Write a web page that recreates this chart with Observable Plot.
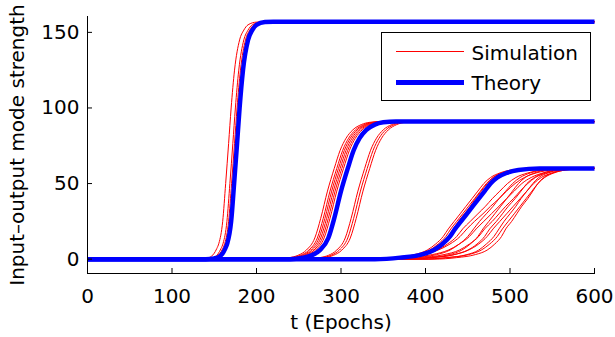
<!DOCTYPE html>
<html><head><meta charset="utf-8">
<script src="https://cdn.jsdelivr.net/npm/d3@7"></script>
<script src="https://cdn.jsdelivr.net/npm/@observablehq/plot@0.6"></script>
<style>
html,body{margin:0;padding:0;background:#fff;}
#wrap{position:relative;width:615px;height:337px;font-family:"DejaVu Sans",sans-serif;color:#000;}
#legend{position:absolute;left:381px;top:32px;width:210px;height:69px;box-sizing:border-box;border:1px solid #000;background:#fff;}
#legend svg{position:absolute;left:0;top:0;}
#legend .tx{position:absolute;left:89.5px;font-size:20px;line-height:normal;white-space:nowrap;}
</style></head><body><div id="wrap"></div>
<script>
const xTicks = [0, 100, 200, 300, 400, 500, 600];
const yTicks = [0, 50, 100, 150];
const xLabel = "t (Epochs)";
const yLabel = "Input\u2013output mode strength";
const legendLabels = ["Simulation", "Theory"];

// Mode 1 (strongest): strength levels and times at which each curve reaches them
const mode1Levels = [0, 0, 0.5, 1.5, 3.5, 7, 10.5, 25, 50, 76.5, 100, 125, 145, 151.5, 155, 156.8, 157, 157];
const mode1Theory = [0, 140, 150, 155.5, 159.5, 163, 165.5, 170, 173.5, 177, 180, 184, 190, 195, 200, 210, 220, 600];
const mode1Sims = [
  [0, 130, 140, 145.5, 149.5, 153, 155.5, 160, 163.5, 167, 170, 174, 180, 185, 190, 200, 210, 600],
  [0, 135, 145, 150.5, 154.5, 158, 160.5, 165, 168.5, 172, 175, 179, 185, 190, 195, 205, 215, 600],
  [0, 137, 147, 152.5, 156.5, 160, 162.5, 167, 170.5, 174, 177, 181, 187, 192, 197, 207, 217, 600]
];

// Mode 2
const mode2Levels = [0, 0, 1, 2.5, 6, 14, 27, 45, 60, 72, 80, 85.5, 89, 90.5, 91, 91];
const mode2Theory = [0, 240, 255, 265, 275, 285, 292, 300, 308, 315, 322, 330, 340, 350, 365, 600];
const mode2Sims = [
  [0, 224, 239, 249, 259, 269, 276, 284, 292, 299, 306, 314, 324, 334, 349, 600],
  [0, 227, 242, 252, 262, 272, 279, 287, 295, 302, 309, 317, 327, 337, 352, 600],
  [0, 229, 244, 254, 264, 274, 281, 289, 297, 304, 311, 319, 329, 339, 354, 600],
  [0, 231, 246, 256, 266, 276, 283, 291, 299, 306, 313, 321, 331, 341, 356, 600],
  [0, 233, 248, 258, 268, 278, 285, 293, 301, 308, 315, 323, 333, 343, 358, 600],
  [0, 235, 250, 260, 270, 280, 287, 295, 303, 310, 317, 325, 335, 345, 360, 600],
  [0, 260, 275, 285, 295, 305, 312, 320, 328, 335, 342, 350, 360, 370, 385, 600],
  [0, 263, 278, 288, 298, 308, 315, 323, 331, 338, 345, 353, 363, 373, 388, 600],
  [0, 266, 281, 291, 301, 311, 318, 326, 334, 341, 348, 356, 366, 376, 391, 600]
];

// Mode 3
const mode3Levels = [0, 0, 1, 3, 6, 10, 15, 20, 25, 30, 35, 40, 45, 50, 54, 57, 59, 60, 60];
const mode3Theory = [0, 340, 370, 395, 410, 420, 429, 435, 442, 449, 456, 463, 470, 477, 485, 496, 510, 535, 600];
const mode3Sims = [
  [0, 326, 363, 394, 413, 426, 437, 444, 453, 462, 471, 479, 488, 497, 507, 521, 538, 569, 600],
  [0, 321, 361, 395, 415, 429, 441, 449, 458, 468, 477, 487, 496, 506, 517, 531, 550, 584, 600],
  [0, 352, 385, 413, 429, 440, 450, 457, 464, 472, 480, 487, 495, 503, 512, 524, 539, 567, 600],
  [0, 336, 375, 408, 427, 440, 452, 460, 469, 478, 487, 496, 505, 514, 525, 539, 557, 590, 600],
  [0, 373, 403, 428, 443, 453, 462, 468, 475, 482, 489, 496, 503, 510, 518, 529, 543, 568, 600],
  [0, 356, 392, 422, 440, 452, 463, 470, 479, 487, 495, 504, 512, 521, 530, 543, 560, 590, 600],
  [0, 377, 408, 434, 450, 461, 470, 476, 484, 491, 498, 506, 513, 520, 529, 540, 555, 581, 600],
  [0, 371, 405, 434, 451, 463, 473, 480, 488, 496, 504, 512, 520, 528, 537, 550, 566, 595, 600],
  [0, 396, 425, 449, 463, 472, 481, 487, 493, 500, 507, 513, 520, 527, 534, 545, 558, 582, 600],
  [0, 396, 426, 451, 466, 476, 485, 491, 498, 505, 512, 519, 526, 533, 541, 552, 566, 591, 600],
  [0, 410, 437, 459, 473, 482, 490, 495, 502, 508, 514, 521, 527, 533, 540, 550, 563, 585, 600],
  [0, 332, 362, 387, 402, 412, 421, 427, 434, 441, 448, 455, 462, 469, 477, 488, 502, 527, 600],
  [0, 335, 365, 390, 405, 415, 424, 430, 437, 444, 451, 458, 465, 472, 480, 491, 505, 530, 600],
  [0, 342, 371, 395, 409, 418, 427, 433, 439, 446, 453, 459, 466, 473, 480, 491, 504, 528, 600]
];

function rows(mode, levels, tArrays) {
  const out = [];
  tArrays.forEach((ts, i) => ts.forEach((t, j) => out.push({t, v: levels[j], id: mode + "-" + i})));
  return out;
}
const simRows = [
  ...rows("m1", mode1Levels, mode1Sims),
  ...rows("m2", mode2Levels, mode2Sims),
  ...rows("m3", mode3Levels, mode3Sims)
];
const theoryRows = [
  ...rows("m1", mode1Levels, [mode1Theory]),
  ...rows("m2", mode2Levels, [mode2Theory]),
  ...rows("m3", mode3Levels, [mode3Theory])
];

const chart = Plot.plot({
  width: 615, height: 337,
  marginLeft: 87, marginRight: 21, marginTop: 16, marginBottom: 64,
  x: {domain: [0, 600]},
  y: {domain: [-9.5, 160.5]},
  style: {fontFamily: "DejaVu Sans", fontSize: "20px", color: "#000", background: "#fff", overflow: "visible"},
  marks: [
    Plot.line(simRows, {x: "t", y: "v", z: "id", stroke: "#ff0000", strokeWidth: 1, curve: "monotone-x"}),
    Plot.line(theoryRows, {x: "t", y: "v", z: "id", stroke: "#0000ff", strokeWidth: 4.5, strokeLinecap: "butt", curve: "monotone-x"}),
    Plot.frame({anchor: "left", stroke: "#000"}),
    Plot.frame({anchor: "bottom", stroke: "#000"}),
    Plot.tickX(xTicks, {x: d => d, insetTop: 252, stroke: "#000"}),
    Plot.tickY(yTicks, {y: d => d, insetRight: 502, stroke: "#000"}),
    Plot.axisX({ticks: xTicks, tickSize: 0, tickPadding: 15, fontSize: 20, label: null, fill: "#000"}),
    Plot.axisY({ticks: yTicks, tickSize: 0, tickPadding: 8, fontSize: 20, label: null, fill: "#000"}),
    Plot.text([xLabel], {frameAnchor: "bottom", dy: 55, text: d => d, lineAnchor: "bottom", fontSize: 20, fill: "#000"}),
    Plot.text([yLabel], {frameAnchor: "left", dx: -64, rotate: -90, text: d => d, textAnchor: "middle", lineAnchor: "bottom", fontSize: 20, fill: "#000"})
  ]
});
const wrap = document.getElementById("wrap");
wrap.appendChild(chart);

const legend = document.createElement("div");
legend.id = "legend";
legend.innerHTML =
  '<svg width="208" height="67"><line x1="14" x2="82" y1="18.5" y2="18.5" stroke="#ff0000" stroke-width="1"/>' +
  '<line x1="14" x2="82" y1="49.5" y2="49.5" stroke="#0000ff" stroke-width="5"/></svg>' +
  '<span class="tx" style="top:8px">' + legendLabels[0] + '</span>' +
  '<span class="tx" style="top:38px">' + legendLabels[1] + '</span>';
wrap.appendChild(legend);
</script>
</body></html>
